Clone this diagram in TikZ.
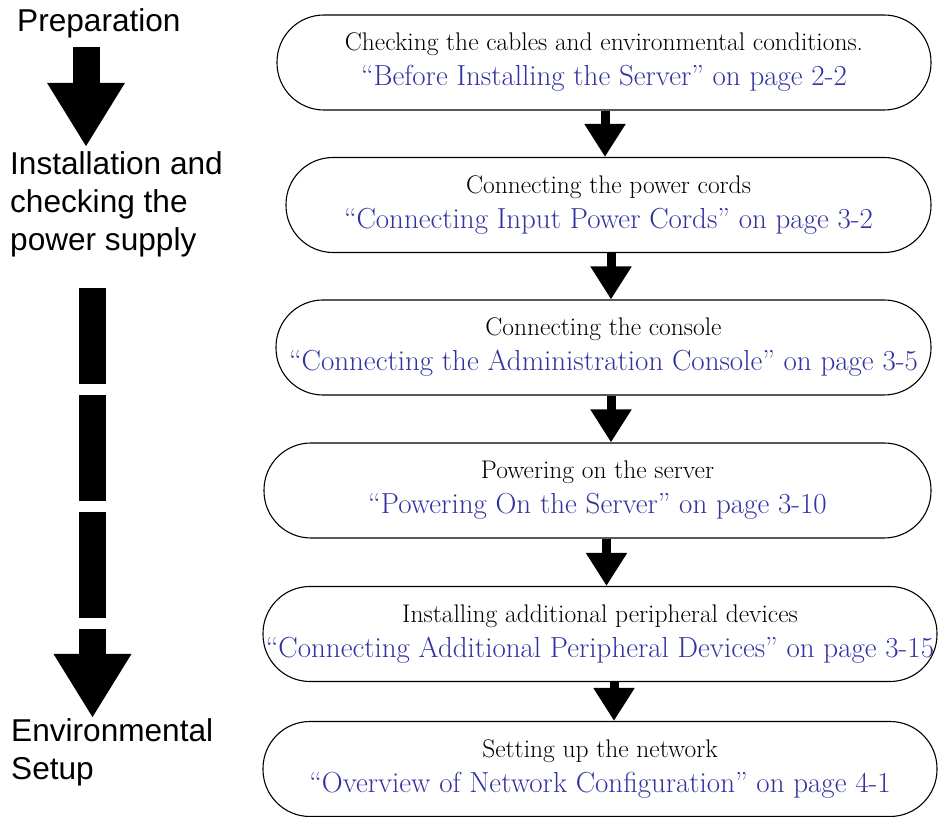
\documentclass[tikz,border=0pt]{standalone}
\usepackage{fontspec}
\usepackage{tikz}
\usetikzlibrary{arrows.meta,calc}
\newfontfamily\phasefont{Liberation Sans}
\definecolor{linkblue}{RGB}{50,50,160}

\tikzset{
  stage/.style={draw, line width=1.1pt, rounded corners=47pt, minimum height=95pt,
    inner sep=0pt, align=center, font=\fontsize{29}{35}\selectfont},
  steparrow/.style={line width=9pt, -{Triangle[width=39pt,length=33pt]}},
  bigarrow/.style={line width=27pt, -{Triangle[width=73pt,length=64pt]}},
  phase/.style={font=\phasefont\fontsize{31.6}{38}\selectfont, align=left,
    inner sep=0pt, anchor=base west}
}
\newcommand{\task}[2]{{\fontsize{25.5}{35}\selectfont #1}\\{\color{linkblue}#2}}

\begin{document}
\begin{tikzpicture}[x=1pt,y=1pt]
    \useasboundingbox (0,0) rectangle (938,817);

    % Phases on the left
    \node[phase] (prep) at (17,785) {Preparation};
    \node[phase] (inst) at (10,566) {Installation and\\checking the\\power supply};
    \node[phase] (env) at (11,37) {Environmental\\Setup};

    \coordinate (prepend) at (86,770);
    \coordinate (insttip) at (86,670);
    \coordinate (instend) at (92.5,529);
    \coordinate (envtip) at (92.5,99);
    \draw[bigarrow] (prepend) -- (insttip);
    \draw[bigarrow, dash pattern=on 106pt off 11pt, dash phase=10pt] (instend) -- (envtip);

    % Steps
    \node[stage, minimum width=654pt] (cables) at (604,754.5)
        {\task{Checking the cables and environmental conditions.}{“Before Installing the Server” on page 2-2}};
    \node[stage, minimum width=645pt] (power) at (608.5,612)
        {\task{Connecting the power cords}{“Connecting Input Power Cords” on page 3-2}};
    \node[stage, minimum width=655pt] (console) at (603.5,469.5)
        {\task{Connecting the console}{“Connecting the Administration Console” on page 3-5}};
    \node[stage, minimum width=667pt] (poweron) at (597.5,326.5)
        {\task{Powering on the server}{“Powering On the Server” on page 3-10}};
    \node[stage, minimum width=674pt] (periph) at (600,183)
        {\task{Installing additional peripheral devices}{“Connecting Additional Peripheral Devices” on page 3-15}};
    \node[stage, minimum width=674pt] (network) at (600,48)
        {\task{Setting up the network}{“Overview of Network Configuration” on page 4-1}};

    % Arrows between steps
    \foreach \a/\b/\dx in {cables/power/1, power/console/2.5, console/poweron/7.5,
                           poweron/periph/9, periph/network/14} {
        \draw[steparrow] ([xshift=\dx pt]\a.south) -- ([xshift=\dx pt]\a.south |- \b.north);
    }
\end{tikzpicture}
\end{document}
